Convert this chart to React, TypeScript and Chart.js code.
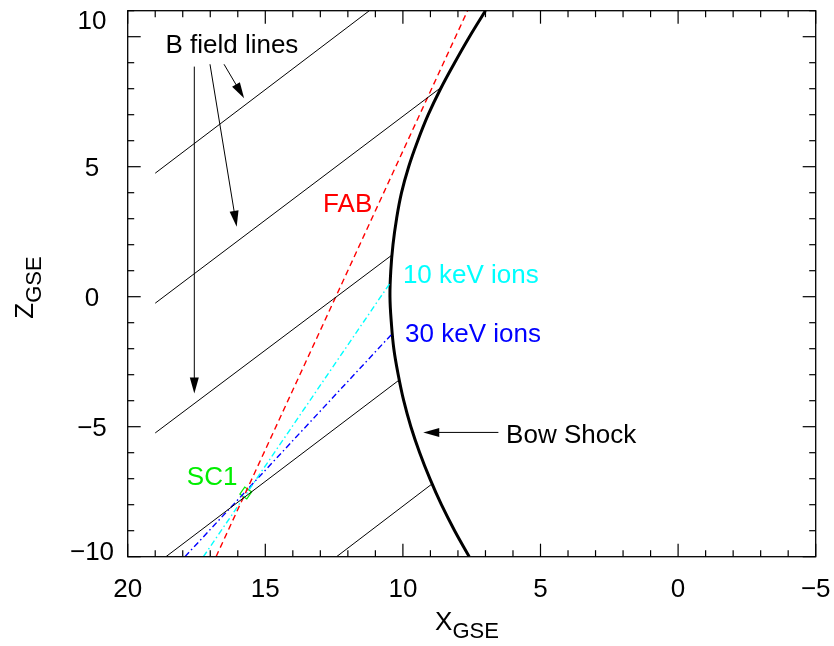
import React, { useEffect, useRef } from "react";
import { Chart, registerables } from "chart.js";

Chart.register(...registerables);

// Axis ranges and tick labels
const xRange = [-5, 20];
const zRange = [-10, 11];
const xTickValues = [20, 15, 10, 5, 0, -5];
const yTickValues = [-10, -5, 0, 5, 10];

// Bow shock (X_GSE, Z_GSE)
const bowShockX = [7.0, 7.58, 8.12, 8.63, 9.08, 9.46, 9.79, 10.05, 10.23, 10.36, 10.44, 10.47, 10.42, 10.33, 10.17, 9.97, 9.71, 9.39, 9.02, 8.6, 8.12, 7.59];
const bowShockZ = [11, 10, 9, 8, 7, 6, 5, 4, 3, 2, 1, 0, -1, -2, -3, -4, -5, -6, -7, -8, -9, -10];

// Magnetic field lines (start / end points)
const fieldStartX = [19.0, 19.0, 19.0, 18.61, 12.41];
const fieldStartZ = [4.75, -0.25, -5.24, -10.0, -10.0];
const fieldEndX = [11.22, 8.61, 10.4, 10.13, 8.94];
const fieldEndZ = [11.0, 8.05, 1.6, -3.2, -7.2];

// Foreshock boundary and ion paths
const fabX = [16.79, 7.65];
const fabZ = [-10.0, 11.0];
const ions10X = [17.25, 10.47];
const ions10Z = [-10.0, 0.52];
const ions30X = [17.92, 10.43];
const ions30Z = [-10.0, -1.47];

// Spacecraft position
const sc1X = [15.71];
const sc1Z = [-7.55];

const FONT = '"Liberation Sans", Arial, Helvetica, sans-serif';

const fmt = (v: number) => (v < 0 ? "\u2212" + Math.abs(v) : String(v));

const pts = (xs: number[], zs: number[]) => xs.map((x, i) => ({ x, y: zs[i] }));

const decorPlugin = {
  id: "decor",
  afterDatasetsDraw(chart: any) {
    const { ctx, chartArea: a, scales } = chart;
    const xs = scales.x;
    const ys = scales.y;
    const X = (v: number) => xs.getPixelForValue(v);
    const Y = (v: number) => ys.getPixelForValue(v);
    ctx.save();

    const line = (x0: number, y0: number, x1: number, y1: number) => {
      ctx.beginPath();
      ctx.moveTo(x0, y0);
      ctx.lineTo(x1, y1);
      ctx.stroke();
    };

    // frame
    ctx.strokeStyle = "#000";
    ctx.lineWidth = 1.3;
    ctx.strokeRect(a.left, a.top, a.right - a.left, a.bottom - a.top);

    // ticks (inward)
    ctx.lineWidth = 1.2;
    for (let v = Math.ceil(xRange[0]); v <= xRange[1]; v++) {
      const px = X(v);
      const len = v % 5 === 0 ? 13 : 6.5;
      line(px, a.bottom, px, a.bottom - len);
      line(px, a.top, px, a.top + len);
    }
    for (let v = Math.ceil(zRange[0]); v <= zRange[1]; v++) {
      const py = Y(v);
      const len = v % 5 === 0 ? 13 : 6.5;
      line(a.left, py, a.left + len, py);
      line(a.right, py, a.right - len, py);
    }

    // tick labels
    ctx.fillStyle = "#000";
    ctx.font = `26px ${FONT}`;
    ctx.textAlign = "center";
    ctx.textBaseline = "alphabetic";
    xTickValues.forEach((v) => {
      ctx.fillText(fmt(v), X(v), a.bottom + 40.3);
    });
    yTickValues.forEach((v, i) => {
      let base = Y(v) + 9.3;
      if (i === yTickValues.length - 1) base = a.top + 18.6;
      if (i === 0) base = a.bottom + 3.3;
      ctx.fillText(fmt(v), 92, base);
    });

    // axis titles
    const drawSub = (main: string, sub: string, x: number, y: number) => {
      ctx.textAlign = "left";
      ctx.font = `26px ${FONT}`;
      const w1 = ctx.measureText(main).width;
      ctx.font = `22px ${FONT}`;
      const w2 = ctx.measureText(sub).width;
      const start = x - (w1 + w2) / 2;
      ctx.font = `26px ${FONT}`;
      ctx.fillText(main, start, y);
      ctx.font = `22px ${FONT}`;
      ctx.fillText(sub, start + w1, y + 8);
    };
    drawSub("X", "GSE", 467, 630);
    ctx.save();
    ctx.translate(33.3, 287.5);
    ctx.rotate(-Math.PI / 2);
    drawSub("Z", "GSE", 0, 0);
    ctx.restore();

    // arrows
    const arrow = (x0: number, z0: number, x1: number, z1: number) => {
      const p0x = X(x0), p0y = Y(z0), p1x = X(x1), p1y = Y(z1);
      ctx.strokeStyle = "#000";
      ctx.fillStyle = "#000";
      ctx.lineWidth = 1;
      const ang = Math.atan2(p1y - p0y, p1x - p0x);
      const L = 16, W = 4.5;
      line(p0x, p0y, p1x - Math.cos(ang) * L * 0.6, p1y - Math.sin(ang) * L * 0.6);
      ctx.beginPath();
      ctx.moveTo(p1x, p1y);
      ctx.lineTo(p1x - Math.cos(ang) * L - Math.sin(ang) * W, p1y - Math.sin(ang) * L + Math.cos(ang) * W);
      ctx.lineTo(p1x - Math.cos(ang) * L + Math.sin(ang) * W, p1y - Math.sin(ang) * L - Math.cos(ang) * W);
      ctx.closePath();
      ctx.fill();
    };
    arrow(17.58, 8.85, 17.58, -3.72);
    arrow(17.01, 8.94, 16.04, 2.69);
    arrow(16.5, 8.94, 15.77, 7.63);
    arrow(6.53, -5.22, 9.26, -5.22);

    // annotation texts
    const text = (s: string, x: number, z: number, color: string) => {
      ctx.font = `26px ${FONT}`;
      ctx.textAlign = "left";
      ctx.textBaseline = "alphabetic";
      ctx.fillStyle = color;
      ctx.fillText(s, X(x), Y(z));
    };
    text("B field lines", 18.63, 9.36, "#000");
    text("FAB", 12.9, 3.27, "#ff0000");
    text("10 keV ions", 10.0, 0.52, "#00ffff");
    text("30 keV ions", 9.92, -1.75, "#0000ff");
    text("Bow Shock", 6.25, -5.64, "#000");
    text("SC1", 17.85, -7.24, "#00ee00");

    ctx.restore();
  },
};

export default function App() {
  const ref = useRef<HTMLCanvasElement | null>(null);
  useEffect(() => {
    if (!ref.current) return;
    const lineDs = (data: any[], color: string, width: number, dash: number[] = [], tension = 0) => ({
      data,
      showLine: true,
      borderColor: color,
      backgroundColor: color,
      borderWidth: width,
      borderDash: dash,
      pointRadius: 0,
      fill: false,
      tension,
    });
    const datasets: any[] = [];
    fieldStartX.forEach((_, i) => {
      datasets.push(
        lineDs(
          [
            { x: fieldStartX[i], y: fieldStartZ[i] },
            { x: fieldEndX[i], y: fieldEndZ[i] },
          ],
          "#000",
          1
        )
      );
    });
    datasets.push(lineDs(pts(fabX, fabZ), "#ff0000", 1.4, [6, 4]));
    datasets.push(lineDs(pts(ions10X, ions10Z), "#00ffff", 1.4, [6, 3, 1.5, 3]));
    datasets.push(lineDs(pts(ions30X, ions30Z), "#0000ff", 1.4, [6, 3, 1.5, 3]));
    datasets.push(lineDs(pts(bowShockX, bowShockZ), "#000", 3, [], 0.4));
    datasets.push({
      data: pts(sc1X, sc1Z),
      showLine: false,
      pointStyle: "rectRot",
      pointRadius: 6,
      pointRotation: -10,
      pointBorderColor: "#00ee00",
      pointBackgroundColor: "rgba(0,0,0,0)",
      pointBorderWidth: 1.2,
    });

    const chart = new Chart(ref.current, {
      type: "scatter",
      data: { datasets },
      options: {
        responsive: false,
        maintainAspectRatio: false,
        animation: false,
        layout: { padding: { left: 127.7, right: 18.3, top: 10.7, bottom: 89.3 } },
        scales: {
          x: { type: "linear", min: xRange[0], max: xRange[1], reverse: true, display: false },
          y: { type: "linear", min: zRange[0], max: zRange[1], display: false },
        },
        plugins: { legend: { display: false }, tooltip: { enabled: false } },
      },
      plugins: [decorPlugin],
    } as any);
    return () => chart.destroy();
  }, []);
  return (
    <div style={{ position: "absolute", left: 0, top: 0, width: 834, height: 646, background: "#fff" }}>
      <canvas ref={ref} width={834} height={646} style={{ display: "block", width: 834, height: 646 }} />
    </div>
  );
}
